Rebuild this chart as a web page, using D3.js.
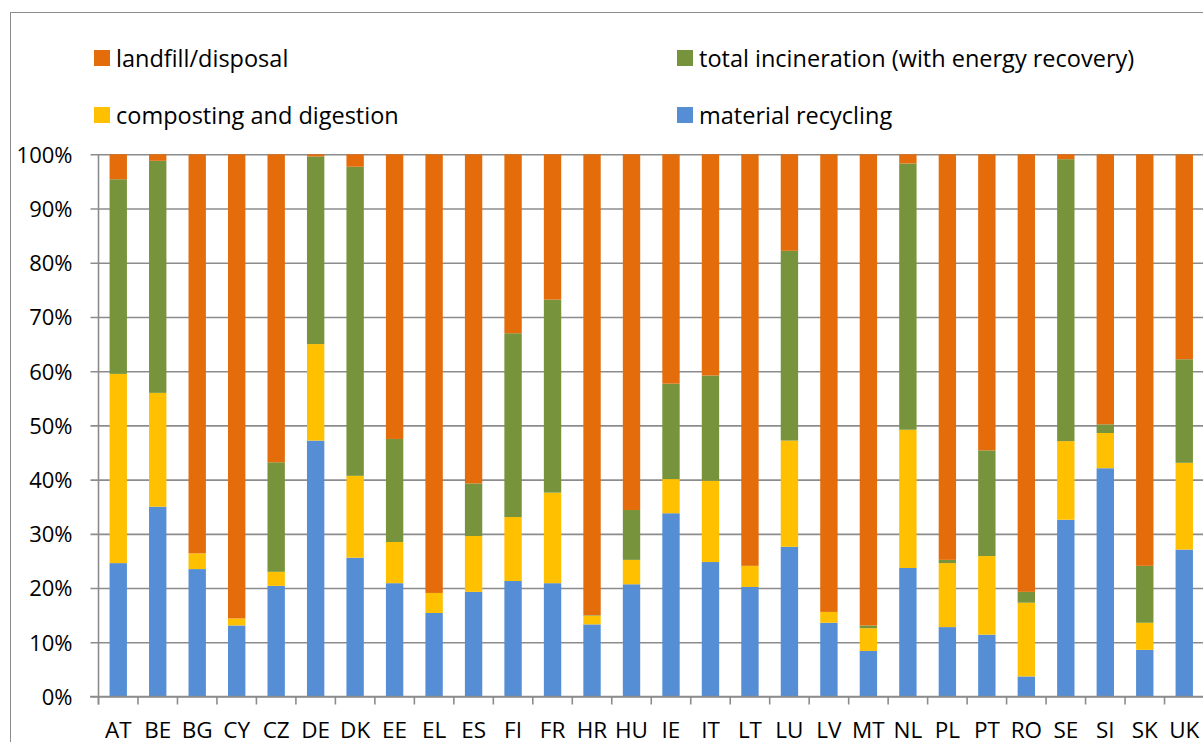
<!DOCTYPE html>
<html>
<head>
<meta charset="utf-8">
<script src="https://cdn.jsdelivr.net/npm/d3@7"></script>
<style>
  html, body { margin: 0; padding: 0; background: #ffffff; }
  svg { display: block; }
</style>
</head>
<body>
<script>
const countries = ['AT', 'BE', 'BG', 'CY', 'CZ', 'DE', 'DK', 'EE', 'EL', 'ES', 'FI', 'FR', 'HR', 'HU',
  'IE', 'IT', 'LT', 'LU', 'LV', 'MT', 'NL', 'PL', 'PT', 'RO', 'SE', 'SI', 'SK', 'UK'];

// shares in %
const recycling = [24.6, 35.0, 23.5, 13.1, 20.4, 47.2, 25.6, 20.9, 15.4, 19.3, 21.3, 20.9, 13.3, 20.7,
  33.8, 24.8, 20.2, 27.6, 13.6, 8.4, 23.7, 12.8, 11.4, 3.7, 32.6, 42.1, 8.6, 27.1];
const composting = [34.9, 21.0, 2.9, 1.3, 2.6, 17.8, 15.1, 7.6, 3.7, 10.3, 11.8, 16.7, 1.6, 4.5,
  6.3, 15.0, 3.9, 19.6, 2.0, 4.2, 25.5, 11.8, 14.5, 13.6, 14.5, 6.5, 5.0, 16.0];
const incineration = [35.9, 42.8, 0, 0, 20.2, 34.6, 57.0, 19.0, 0, 9.7, 33.9, 35.6, 0.1, 9.2,
  17.6, 19.4, 0, 35.0, 0, 0.5, 49.1, 0.6, 19.5, 2.0, 52.0, 1.6, 10.5, 19.1];
const landfill = [4.6, 1.2, 73.6, 85.6, 56.8, 0.4, 2.3, 52.5, 80.9, 60.7, 33.0, 26.8, 85.0, 65.6,
  42.3, 40.8, 75.9, 17.8, 84.4, 86.9, 1.7, 74.8, 54.6, 80.7, 0.9, 49.8, 75.9, 37.8];

const yTicks = [0, 0.1, 0.2, 0.3, 0.4, 0.5, 0.6, 0.7, 0.8, 0.9, 1];

const seriesKeys = ['recycling', 'composting', 'incineration', 'landfill'];
const seriesNames = {
  landfill: 'landfill/disposal',
  incineration: 'total incineration (with energy recovery)',
  composting: 'composting and digestion',
  recycling: 'material recycling'
};
const colors = {
  recycling: '#558ed5',
  composting: '#ffc000',
  incineration: '#77933c',
  landfill: '#e46c0a'
};

const table = countries.map((c, i) => {
  const total = recycling[i] + composting[i] + incineration[i] + landfill[i];
  return {
    country: c,
    recycling: recycling[i] / total,
    composting: composting[i] / total,
    incineration: incineration[i] / total,
    landfill: landfill[i] / total
  };
});

const width = 1203, height = 742;
const font = '"Open Sans", sans-serif';

const svg = d3.select('body').append('svg')
  .attr('width', width)
  .attr('height', height);

svg.append('rect')
  .attr('width', width)
  .attr('height', height)
  .attr('fill', '#ffffff');

// chart border (cut off on right and bottom)
svg.append('rect')
  .attr('x', 10.5)
  .attr('y', 12.5)
  .attr('width', 1300)
  .attr('height', 800)
  .attr('fill', 'none')
  .attr('stroke', '#8c8c8c')
  .attr('stroke-width', 1);

const x = d3.scaleBand()
  .domain(countries)
  .range([98.5, 1204])
  .paddingInner(0.56)
  .paddingOuter(0.28);

const y = d3.scaleLinear()
  .domain([0, 1])
  .range([696.5, 154.3]);

// gridlines + y labels
const yAxis = d3.axisLeft(y)
  .tickValues(yTicks)
  .tickFormat(d3.format('.0%'))
  .tickSize(-(width - 98.5))
  .tickPadding(26);

const gy = svg.append('g')
  .attr('transform', 'translate(98.5,0)')
  .call(yAxis);
gy.select('.domain').remove();
gy.selectAll('.tick line')
  .attr('x1', -8)
  .attr('stroke', '#8c8c8c')
  .attr('stroke-width', 1.6);
gy.selectAll('.tick text')
  .attr('font-family', font)
  .attr('font-size', 22)
  .attr('fill', '#000')
  .attr('dy', '0.36em');

// y axis line
svg.append('line')
  .attr('x1', 98.5).attr('x2', 98.5)
  .attr('y1', y(1)).attr('y2', y(0) + 8)
  .attr('stroke', '#8c8c8c')
  .attr('stroke-width', 1.6);

// stacked bars
const stack = d3.stack().keys(seriesKeys);
const layers = stack(table);

svg.append('g')
  .selectAll('g')
  .data(layers)
  .join('g')
  .attr('fill', d => colors[d.key])
  .selectAll('rect')
  .data(d => d)
  .join('rect')
  .attr('x', d => x(d.data.country))
  .attr('width', x.bandwidth())
  .attr('y', d => y(d[1]))
  .attr('height', d => y(d[0]) - y(d[1]));

// x axis with ticks between categories
const gap = (x.step() - x.bandwidth()) / 2;
const boundaries = countries.map(c => x(c) - gap);
svg.append('line')
  .attr('x1', 90).attr('x2', width)
  .attr('y1', y(0)).attr('y2', y(0))
  .attr('stroke', '#8c8c8c')
  .attr('stroke-width', 1.6);
svg.append('g')
  .selectAll('line')
  .data(boundaries)
  .join('line')
  .attr('x1', d => d).attr('x2', d => d)
  .attr('y1', y(0)).attr('y2', y(0) + 8)
  .attr('stroke', '#8c8c8c')
  .attr('stroke-width', 1.6);

svg.append('g')
  .selectAll('text')
  .data(countries)
  .join('text')
  .attr('x', d => x(d) + x.bandwidth() / 2)
  .attr('y', 738)
  .attr('text-anchor', 'middle')
  .attr('font-family', font)
  .attr('font-size', 22.5)
  .attr('fill', '#000')
  .text(d => d);

// legend
const legendItems = [
  { key: 'landfill', x: 94, y: 50 },
  { key: 'incineration', x: 677, y: 50 },
  { key: 'composting', x: 94, y: 107 },
  { key: 'recycling', x: 677, y: 107 }
];
const lg = svg.append('g')
  .selectAll('g')
  .data(legendItems)
  .join('g')
  .attr('transform', d => `translate(${d.x},${d.y})`);
lg.append('rect')
  .attr('width', 16)
  .attr('height', 16)
  .attr('fill', d => colors[d.key]);
lg.append('text')
  .attr('x', 22)
  .attr('y', 16.5)
  .attr('font-family', font)
  .attr('font-size', 23.5)
  .attr('fill', '#000')
  .text(d => seriesNames[d.key]);
</script>
</body>
</html>
